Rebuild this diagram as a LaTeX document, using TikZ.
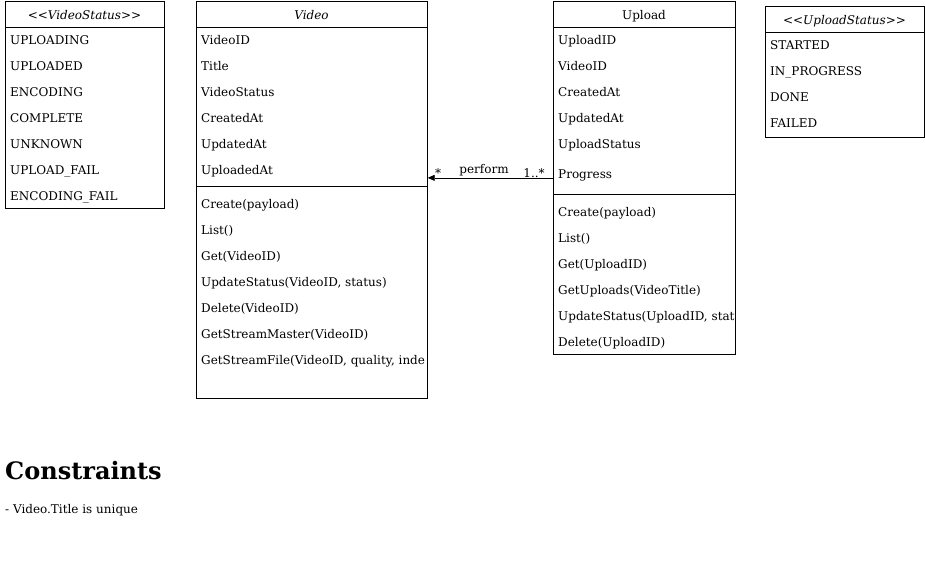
\documentclass[tikz,border=0pt]{standalone}
\usepackage{fontspec}
\setmainfont{DejaVu Serif}
\usetikzlibrary{arrows.meta}
\begin{document}
\begin{tikzpicture}[x=1pt,y=-1pt,
    box/.style={draw,line width=0.7pt,inner sep=0pt,anchor=north west},
    row/.style={anchor=west,inner sep=0pt,yshift=-0.8pt,text height=8.8pt,text depth=0pt,font=\fontsize{12}{14}\selectfont},
    head/.style={row,anchor=center},
    lbl/.style={inner sep=0pt,font=\fontsize{12}{14}\selectfont}]
    \useasboundingbox (0,0) rectangle (925,571);

    % Enumeration VideoStatus
    \node[box,minimum width=159,minimum height=207] (vstatus) at (5,1) {};
    \node[head,font=\fontsize{12}{14}\selectfont\itshape] (vstatushead) at (84.5,14) {<{}<VideoStatus>{}>};
    \draw[line width=0.7pt] (5,27) -- (164,27);
    \node[row] (vs1) at (10,39) {UPLOADING};
    \node[row] (vs2) at (10,65) {UPLOADED};
    \node[row] (vs3) at (10,91) {ENCODING};
    \node[row] (vs4) at (10,117) {COMPLETE};
    \node[row] (vs5) at (10,143) {UNKNOWN};
    \node[row] (vs6) at (10,169) {UPLOAD\_FAIL};
    \node[row] (vs7) at (10,195) {ENCODING\_FAIL};

    % Class Video
    \node[box,minimum width=231,minimum height=397] (video) at (196,1) {};
    \node[head,font=\fontsize{12}{14}\selectfont\itshape] (videohead) at (311.5,14) {Video};
    \draw[line width=0.7pt] (196,27) -- (427,27);
    \node[row] (v1) at (201,39) {VideoID};
    \node[row] (v2) at (201,65) {Title};
    \node[row] (v3) at (201,91) {VideoStatus};
    \node[row] (v4) at (201,117) {CreatedAt};
    \node[row] (v5) at (201,143) {UpdatedAt};
    \node[row] (v6) at (201,169) {UploadedAt};
    \draw[line width=0.7pt] (196,186) -- (427,186);
    \begin{scope}
        \clip (196,1) rectangle (424,398);
        \node[row] (vm1) at (201,203) {Create(payload)};
        \node[row] (vm2) at (201,229) {List()};
        \node[row] (vm3) at (201,255) {Get(VideoID)};
        \node[row] (vm4) at (201,281) {UpdateStatus(VideoID, status)};
        \node[row] (vm5) at (201,307) {Delete(VideoID)};
        \node[row] (vm6) at (201,333) {GetStreamMaster(VideoID)};
        \node[row] (vm7) at (201,359) {GetStreamFile(VideoID, quality, index)};
    \end{scope}

    % Class Upload
    \node[box,minimum width=182,minimum height=353] (upload) at (553,1) {};
    \node[head] (uploadhead) at (644,14) {Upload};
    \draw[line width=0.7pt] (553,27) -- (735,27);
    \node[row] (u1) at (558,39) {UploadID};
    \node[row] (u2) at (558,65) {VideoID};
    \node[row] (u3) at (558,91) {CreatedAt};
    \node[row] (u4) at (558,117) {UpdatedAt};
    \node[row] (u5) at (558,143) {UploadStatus};
    \node[row] (u6) at (558,173) {Progress};
    \draw[line width=0.7pt] (553,194) -- (735,194);
    \begin{scope}
        \clip (553,1) rectangle (734,354);
        \node[row] (um1) at (558,211) {Create(payload)};
        \node[row] (um2) at (558,237) {List()};
        \node[row] (um3) at (558,263) {Get(UploadID)};
        \node[row] (um4) at (558,289) {GetUploads(VideoTitle)};
        \node[row] (um5) at (558,315) {UpdateStatus(UploadID, status)};
        \node[row] (um6) at (558,341) {Delete(UploadID)};
    \end{scope}

    % Enumeration UploadStatus
    \node[box,minimum width=159,minimum height=131] (ustatus) at (765,6) {};
    \node[head,font=\fontsize{12}{14}\selectfont\itshape] (ustatushead) at (844.5,19) {<{}<UploadStatus>{}>};
    \draw[line width=0.7pt] (765,32) -- (924,32);
    \node[row] (us1) at (770,44) {STARTED};
    \node[row] (us2) at (770,70) {IN\_PROGRESS};
    \node[row] (us3) at (770,96) {DONE};
    \node[row] (us4) at (770,122) {FAILED};

    % Association Upload -> Video
    \draw[line width=0.7pt,-{Triangle[length=7pt,width=6pt]}] (upload.west) -- (upload.west -| video.east);
    \node[lbl] (mult1) at (438,173) {*};
    \node[lbl] (perform) at (484,170) {perform};
    \node[lbl] (mult2) at (534,173) {1..*};

    % Constraints
    \node[anchor=base west,inner sep=0pt,font=\fontsize{24}{28}\selectfont\bfseries] (constr) at (5,479) {Constraints};
    \node[row] (constr1) at (5,508) {- Video.Title is unique};
\end{tikzpicture}
\end{document}
